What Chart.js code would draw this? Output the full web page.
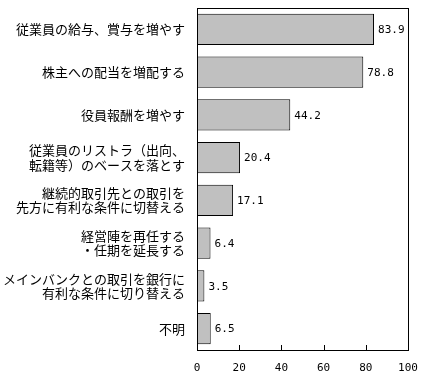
<!DOCTYPE html>
<html><head><meta charset="utf-8">
<script src="https://cdn.jsdelivr.net/npm/chart.js@4"></script>
<style>html,body{margin:0;padding:0;background:#fff}#wrap{width:422px;height:378px}</style>
</head><body><div id="wrap"><canvas id="c" width="422" height="378"></canvas></div>
<script>
const categories = [
  ["従業員の給与、賞与を増やす"],
  ["株主への配当を増配する"],
  ["役員報酬を増やす"],
  ["従業員のリストラ（出向、", "転籍等）のベースを落とす"],
  ["継続的取引先との取引を", "先方に有利な条件に切替える"],
  ["経営陣を再任する", "・任期を延長する"],
  ["メインバンクとの取引を銀行に", "有利な条件に切り替える"],
  ["不明"]
];
const values = [83.9, 78.8, 44.2, 20.4, 17.1, 6.4, 3.5, 6.5];
const xTicks = [0, 20, 40, 60, 80, 100];

const decor = {
  id: 'decor',
  afterDatasetsDraw(chart) {
    const ctx = chart.ctx, a = chart.chartArea, xs = chart.scales.x;
    ctx.save();
    ctx.strokeStyle = '#000'; ctx.lineWidth = 1;
    ctx.strokeRect(Math.round(a.left) + 0.5, Math.round(a.top) + 0.5, Math.round(a.right - a.left), Math.round(a.bottom - a.top));
    xTicks.forEach(v => {
      const px = Math.round(xs.getPixelForValue(v)) + 0.5;
      ctx.beginPath(); ctx.moveTo(px, a.bottom); ctx.lineTo(px, a.bottom - 5); ctx.stroke();
    });
    ctx.fillStyle = '#000';
    ctx.font = '11px "DejaVu Sans Mono", monospace';
    ctx.textBaseline = 'middle'; ctx.textAlign = 'left';
    const meta = chart.getDatasetMeta(0);
    meta.data.forEach((el, i) => {
      ctx.fillText(values[i].toFixed(1), el.x + 4, el.y + 1);
    });
    ctx.restore();
  }
};

const chart = new Chart(document.getElementById('c'), {
  type: 'bar',
  data: {
    labels: categories,
    datasets: [{
      data: values,
      backgroundColor: '#c0c0c0',
      borderColor: '#000',
      borderWidth: 1,
      borderSkipped: false,
      categoryPercentage: 1,
      barPercentage: 0.73
    }]
  },
  options: {
    indexAxis: 'y',
    responsive: false,
    animation: false,
    devicePixelRatio: 1,
    layout: { padding: { top: 8, right: 14, left: 0, bottom: 0 } },
    plugins: { legend: { display: false }, tooltip: { enabled: false } },
    scales: {
      x: {
        min: 0, max: 100,
        afterBuildTicks(s) { s.ticks = xTicks.map(v => ({ value: v })); },
        afterFit(s) { s.height = 28; s.paddingLeft = 0; s.paddingRight = 0; },
        grid: { display: false, drawTicks: false },
        border: { display: false },
        ticks: { color: '#000', padding: 12, font: { family: '"DejaVu Sans Mono", monospace', size: 11 } }
      },
      y: {
        afterFit(s) { s.width = 197; s.paddingTop = 0; s.paddingBottom = 0; },
        grid: { display: false, drawTicks: false },
        border: { display: false },
        ticks: { color: '#000', padding: 12, font: { family: '"Noto Sans CJK JP", sans-serif', size: 13, lineHeight: 1.1 } }
      }
    }
  },
  plugins: [decor]
});
</script></body></html>
